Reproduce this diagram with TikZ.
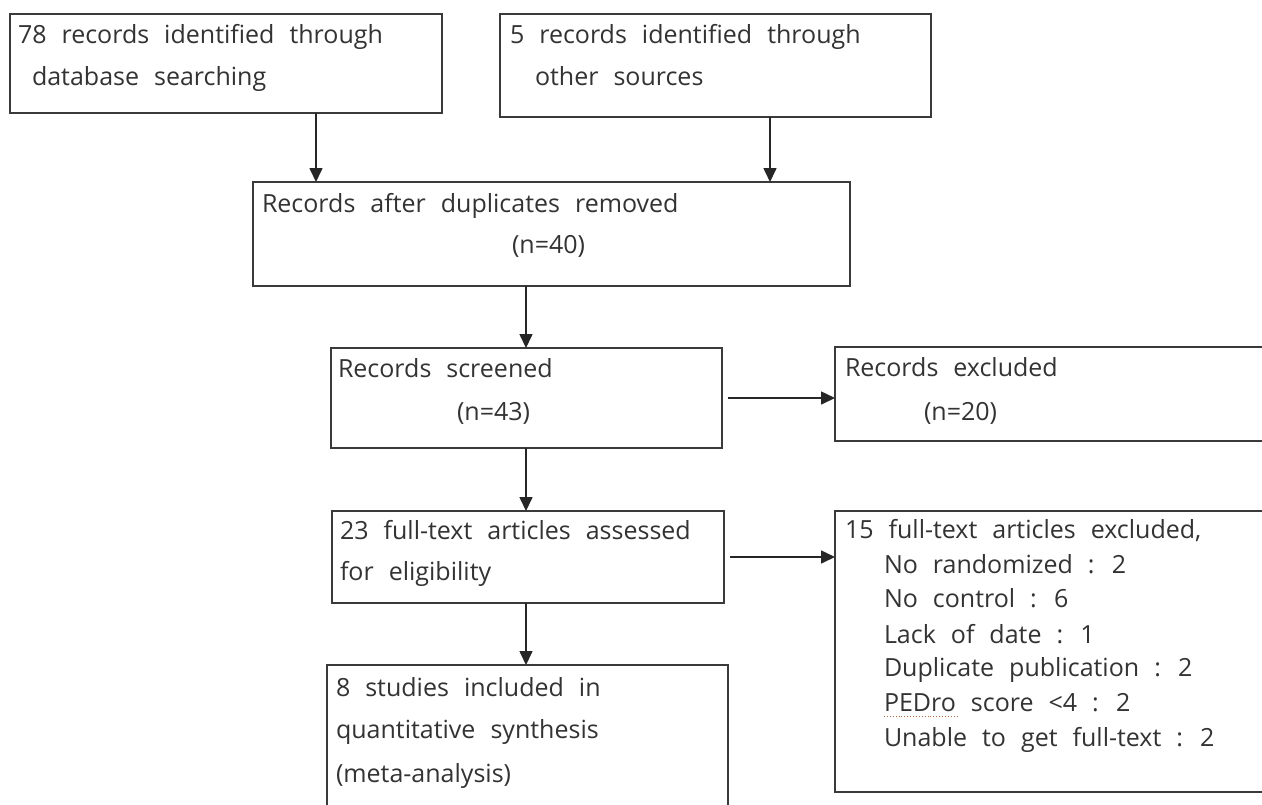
\documentclass[tikz,border=0pt]{standalone}
\usepackage{fontspec}
\setmainfont{Open Sans}
\usetikzlibrary{arrows.meta,calc}
\definecolor{ink}{HTML}{333333}
\definecolor{edge}{HTML}{3A3A3A}
\definecolor{squig}{HTML}{B0683C}
\newcommand\mywordspace{\spaceskip=15pt plus 2pt minus 1pt\relax}
\begin{document}
\begin{tikzpicture}[x=1pt,y=-1pt,
  box/.style={draw=edge,line width=1.8pt,inner sep=0pt,outer sep=0pt,anchor=north west,fill=white},
  txt/.style={anchor=base west,inner sep=0pt,outer sep=0pt,text=ink,
    font=\fontsize{25}{30}\selectfont,execute at begin node=\mywordspace},
  arr/.style={draw=black!85,line width=1.6pt,-{Triangle[length=14pt,width=13pt]}}]
\useasboundingbox (0,0) rectangle (1262,804);
\clip (0,0) rectangle (1262,804);
\fill[white] (0,0) rectangle (1262,804);
% boxes
\node[box,minimum width=432pt,minimum height=99pt] (A) at (10,14) {};
\node[box,minimum width=431pt,minimum height=103pt] (B) at (500,14) {};
\node[box,minimum width=597pt,minimum height=104pt] (C) at (253,182) {};
\node[box,minimum width=391pt,minimum height=100pt] (D) at (331,348) {};
\node[box,minimum width=440pt,minimum height=94pt] (E) at (835,347) {};
\node[box,minimum width=392pt,minimum height=92pt] (F) at (332,511) {};
\node[box,minimum width=440pt,minimum height=281pt] (G) at (835,511) {};
\node[box,minimum width=401pt,minimum height=165pt] (H) at (327,665) {};
% texts
\node[txt] (tA1) at (18,43) {78 records identified through};
\node[txt] (tA2) at (32,85) {database searching};
\node[txt] (tB1) at (510,43) {5 records identified through};
\node[txt] (tB2) at (535,85) {other sources};
\node[txt] (tC1) at (262,212) {Records after duplicates removed};
\node[txt] (tC2) at (512,253) {(n=40)};
\node[txt] (tD1) at (338,377) {Records screened};
\node[txt] (tD2) at (457,420) {(n=43)};
\node[txt] (tE1) at (845,376) {Records excluded};
\node[txt] (tE2) at (924,420) {(n=20)};
\node[txt] (tF1) at (340,539) {23 full-text articles assessed};
\node[txt] (tF2) at (340,580) {for eligibility};
\node[txt] (tH1) at (336,696) {8 studies included in};
\node[txt] (tH2) at (336,738) {quantitative synthesis};
\node[txt] (tH3) at (336,782) {(meta-analysis)};
\node[txt] (tG1) at (845,538) {15 full-text articles excluded,};
\node[txt] (tG2) at (884,573) {No randomized : 2};
\node[txt] (tG3) at (884,607) {No control : 6};
\node[txt] (tG4) at (884,643) {Lack of date : 1};
\node[txt] (tG5) at (884,676) {Duplicate publication : 2};
\node[txt] (tG6) at (884,711) {PEDro score <4 : 2};
\node[txt] (tG7) at (884,746) {Unable to get full-text : 2};
\draw[squig,line width=0.9pt,dotted] ([yshift=-5pt]tG6.base west) -- ++(74,0);
% connectors
\coordinate (xa) at (316,0);
\coordinate (xb) at (770,0);
\coordinate (xm) at (526,0);
\draw[arr] (A.south -| xa) -- (C.north -| xa);
\draw[arr] (B.south -| xb) -- (C.north -| xb);
\draw[arr] (C.south -| xm) -- (D.north -| xm);
\draw[arr] (D.south -| xm) -- (F.north -| xm);
\draw[arr] (F.south -| xm) -- (H.north -| xm);
\draw[arr] ([xshift=6pt]D.east) -- (D.east -| E.west);
\draw[arr] ([xshift=6pt]F.east) -- (F.east -| G.west);
\end{tikzpicture}
\end{document}
